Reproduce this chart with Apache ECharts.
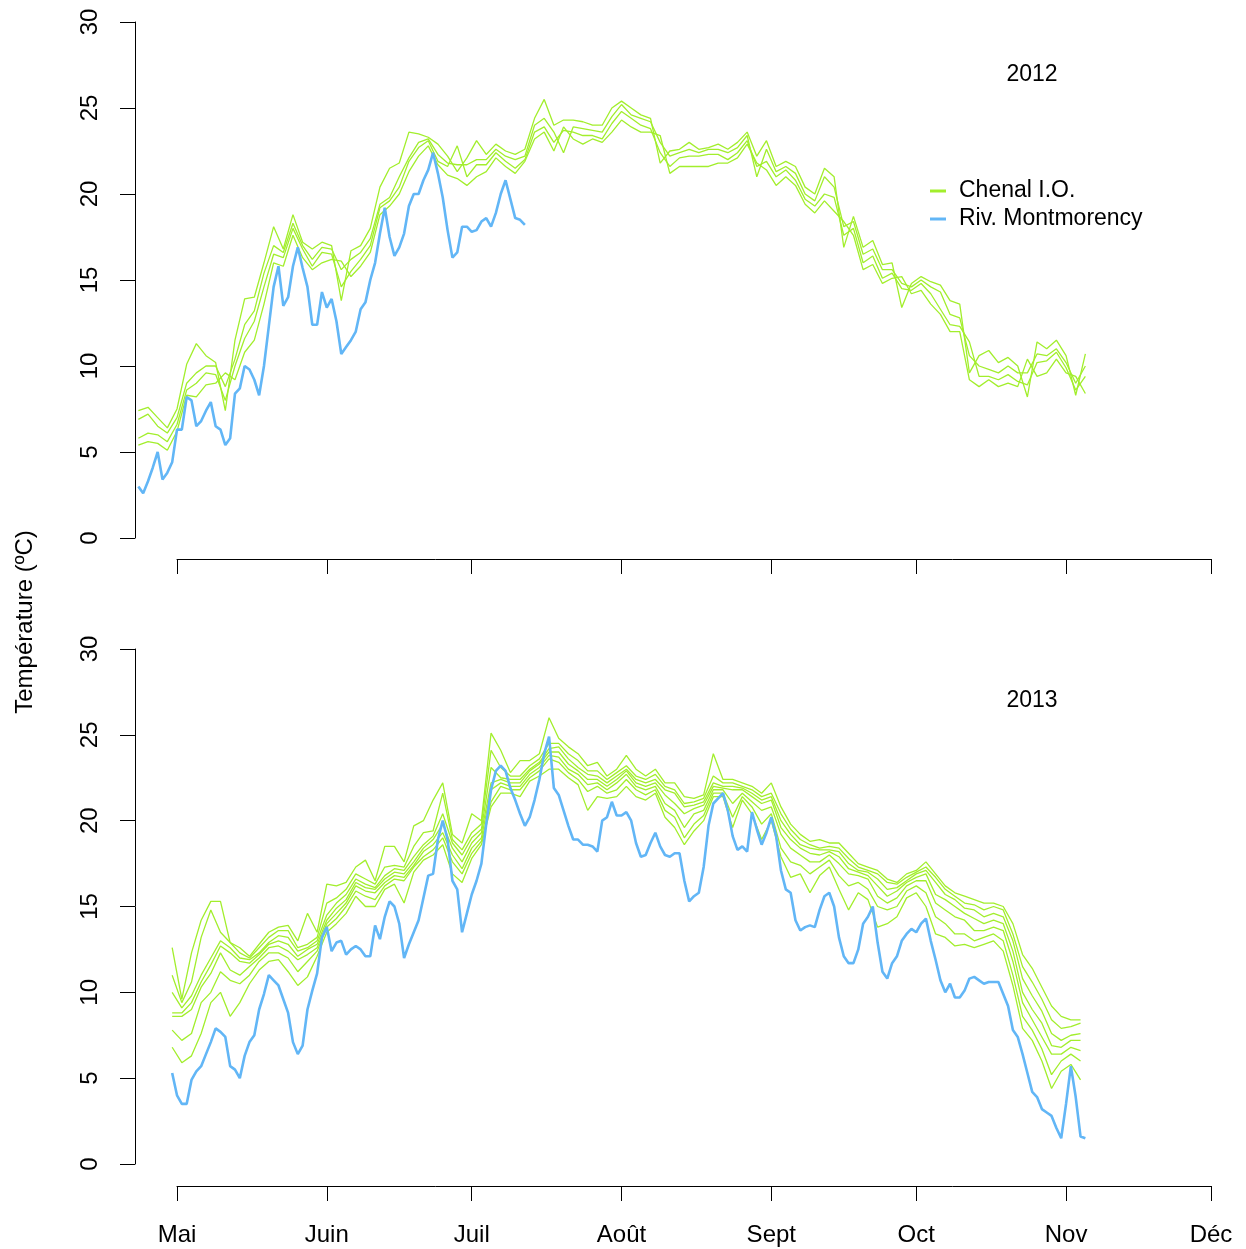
<!DOCTYPE html>
<html>
<head>
<meta charset="utf-8">
<script src="https://cdn.jsdelivr.net/npm/echarts@6/dist/echarts.min.js"></script>
<style>
  html, body { margin: 0; padding: 0; background: #fff; }
  #chart { width: 1246px; height: 1249px; }
</style>
</head>
<body>
<div id="chart"></div>
<script>
// Day offsets are counted from 1 May (day 0) of each season.
const monthStarts = [0, 31, 61, 92, 123, 153, 184, 214];
const monthNames = ['Mai', 'Juin', 'Juil', 'Août', 'Sept', 'Oct', 'Nov', 'Déc'];
const yTicks = [0, 30, 5]; // min, max, step of the temperature axis
const firstPlotDay = -8.692; // left edge of the plotting region (about 22 April)

// ---- 2012 ----
// Chenal I.O. stations: one reading every 2 days starting on day -8
const chenal2012Start = -8, chenal2012Step = 2;
const chenal2012A = [7.4,7.6,7.0,6.4,7.5,10.1,11.3,10.6,10.2,7.4,
  11.5,13.9,14.0,16.0,18.1,16.8,18.8,17.2,16.8,17.2,
  17.0,13.8,16.7,17.0,18.0,20.4,21.5,21.8,23.6,23.5,
  23.3,22.9,22.2,21.3,22.1,23.1,22.3,22.9,22.5,22.3,
  22.6,24.4,25.5,24.0,24.3,24.3,24.2,24.0,24.0,25.0,
  25.4,25.0,24.6,24.4,21.8,22.5,22.6,23.0,22.6,22.7,
  22.9,22.6,23.0,23.6,22.2,23.1,21.6,21.9,21.6,20.4,
  20.0,21.5,21.0,16.9,18.7,16.9,17.3,15.9,16.0,13.4,
  14.8,15.2,14.9,14.7,13.8,13.6,9.6,10.6,10.9,10.2,
  10.5,10.0,8.2,11.4,11.0,11.5,10.6,8.3,10.7];
const chenal2012B = [6.9,7.2,6.5,6.1,7.0,9.0,9.6,10.0,10.0,8.8,
  10.4,12.4,13.2,15.4,17.0,16.6,18.3,17.0,16.2,16.9,
  16.8,15.6,16.2,16.6,17.4,19.4,19.8,21.0,22.1,23.0,
  23.2,22.3,21.8,21.7,21.7,22.0,22.0,22.6,22.2,22.0,
  22.2,24.0,24.4,23.6,22.4,23.9,23.8,23.7,23.6,24.5,
  25.2,24.6,24.4,24.2,23.0,22.2,22.4,22.6,22.4,22.6,
  22.6,22.4,22.7,23.4,21.0,22.6,21.3,21.6,21.2,20.0,
  19.6,21.0,20.4,18.1,18.4,16.5,16.8,15.6,15.6,14.8,
  14.6,15.0,14.6,14.3,13.0,12.8,10.6,10.0,9.8,9.6,
  10.0,9.6,9.6,10.7,10.6,11.0,10.2,9.0,10.0];
const chenal2012C = [5.8,6.1,6.0,5.6,6.6,8.6,9.0,9.6,9.5,8.0,
  10.0,11.6,12.6,14.6,16.5,16.3,18.0,16.8,15.8,16.6,
  16.5,14.6,15.5,16.2,17.0,19.2,19.6,20.4,21.9,22.7,
  23.1,21.9,21.6,22.8,21.0,21.7,21.7,22.4,21.9,21.5,
  22.0,23.6,23.9,23.0,23.7,23.6,23.4,23.4,23.2,24.1,
  24.8,24.4,24.0,23.8,22.4,21.6,22.1,22.2,22.2,22.3,
  22.3,22.0,22.4,23.1,21.6,21.9,21.0,21.4,20.8,19.7,
  19.3,20.0,19.8,17.6,18.0,16.0,16.4,15.1,15.4,14.5,
  14.4,14.8,14.2,13.3,12.4,12.3,11.4,9.4,9.4,9.2,
  9.5,9.1,8.9,10.2,10.3,10.8,9.9,8.6,9.4];
const chenal2012D = [5.4,5.6,5.5,5.1,6.2,8.3,8.2,8.9,9.0,9.6,
  9.2,10.8,11.5,13.6,16.0,15.8,17.6,16.3,15.6,16.0,
  16.2,16.1,15.2,15.8,16.6,18.8,19.3,20.0,21.3,22.2,
  22.8,21.7,21.1,20.9,20.5,21.0,21.3,22.1,21.6,21.2,
  21.9,23.2,23.6,22.5,23.9,23.2,22.9,23.2,23.0,23.6,
  24.3,23.9,23.6,23.6,23.4,21.2,21.6,21.6,21.6,21.6,
  21.8,21.8,22.1,22.9,21.8,21.4,20.5,21.0,20.5,19.4,
  18.9,19.6,19.0,18.4,17.6,15.6,15.9,14.8,15.1,15.2,
  14.2,14.4,13.6,13.0,12.0,12.0,9.2,8.8,9.2,8.8,
  9.0,8.8,10.4,9.4,9.6,10.4,9.6,9.4,8.4];
// Riv. Montmorency: daily readings starting on day -8
const montmorency2012Start = -8;
const montmorency2012 = [3.0,2.6,3.3,4.1,5.0,3.4,3.8,4.4,6.3,6.3,
  8.2,8.0,6.5,6.8,7.4,7.9,6.5,6.3,5.4,5.8,
  8.4,8.7,10.0,9.8,9.2,8.3,10.0,12.3,14.6,15.8,
  13.5,14.0,15.8,16.9,15.7,14.6,12.4,12.4,14.3,13.4,
  13.9,12.6,10.7,11.1,11.5,12.0,13.3,13.7,15.0,16.0,
  17.7,19.2,17.5,16.4,16.9,17.7,19.3,20.0,20.0,20.8,
  21.4,22.4,21.2,19.8,17.9,16.3,16.6,18.1,18.1,17.8,
  17.9,18.4,18.6,18.1,18.9,20.0,20.8,19.7,18.6,18.5,
  18.2];

// ---- 2013 ----
const chenal2013Start = -1, chenal2013Step = 2;
const chenal2013A = [12.6,9.6,12.3,14.2,15.3,15.3,12.9,12.6,12.1,12.8,
  13.5,13.8,13.9,13.0,14.6,13.5,16.3,16.2,16.4,17.3,
  17.7,16.5,18.5,18.5,17.6,19.7,20.0,21.2,22.2,19.2,
  18.7,20.4,20.0,25.1,24.1,22.8,23.5,23.5,23.9,26.0,
  24.8,24.3,23.9,23.2,23.4,22.6,23.0,23.8,23.0,22.6,
  23.0,22.2,22.2,21.4,21.3,21.5,23.9,22.4,22.4,22.2,
  22.0,21.6,22.2,20.8,19.8,19.2,18.8,18.9,18.7,18.7,
  18.1,17.5,17.3,17.1,16.6,16.4,16.9,17.1,17.6,16.9,
  16.2,15.8,15.6,15.4,15.2,15.2,15.0,14.0,12.2,11.4,
  10.3,9.2,8.6,8.4,8.4];
const chenal2013B = [11.0,9.4,10.6,13.2,14.8,13.5,12.9,12.3,12.0,12.6,
  13.2,13.6,13.6,12.6,12.8,13.2,15.2,15.5,16.0,16.9,
  16.6,16.3,17.3,17.4,17.3,18.5,19.3,19.4,21.6,18.9,
  18.3,19.3,19.8,24.1,23.1,22.6,22.6,23.2,23.6,24.5,
  24.5,23.9,23.5,22.9,22.9,22.4,22.8,23.2,22.6,22.4,
  22.7,22.0,21.8,21.0,21.1,21.3,22.6,22.2,22.2,22.0,
  21.8,21.4,21.6,20.4,19.5,18.9,18.6,18.4,18.5,18.4,
  17.8,17.3,17.1,16.9,16.4,16.3,16.7,17.0,17.3,16.7,
  16.0,15.6,15.2,15.1,14.8,15.0,14.8,13.4,11.5,10.6,
  9.6,8.4,7.9,8.0,8.2];
const chenal2013C = [10.0,9.1,9.8,11.0,12.0,13.0,12.6,12.0,11.9,12.3,
  12.9,13.3,13.2,12.4,12.6,13.0,14.5,15.2,15.7,16.6,
  16.3,16.1,16.8,17.2,17.1,17.9,18.6,19.1,20.4,18.7,
  18.0,19.0,19.5,23.1,22.5,22.4,22.4,23.0,23.4,24.2,
  24.3,23.6,23.1,22.7,22.6,22.2,22.6,23.0,22.4,22.2,
  22.4,21.8,21.6,20.8,20.9,21.1,22.2,22.0,22.0,21.9,
  21.6,21.2,21.4,20.0,19.2,18.6,18.4,18.3,18.3,18.2,
  17.5,17.1,17.0,16.6,16.0,16.1,16.5,16.9,17.1,16.4,
  15.7,15.4,14.9,14.8,14.4,14.6,14.4,13.0,10.8,9.8,
  8.9,7.6,7.2,7.5,7.6];
const chenal2013D = [8.8,8.8,9.4,10.6,11.6,12.7,12.3,11.8,11.7,12.2,
  12.8,13.0,12.8,12.1,12.5,12.8,14.2,14.9,15.4,16.4,
  16.1,16.0,16.6,17.0,16.9,17.6,18.4,18.9,19.8,18.4,
  17.6,18.7,19.3,22.2,22.4,22.2,22.2,22.9,23.3,24.0,
  24.0,23.3,22.9,22.4,22.4,22.0,22.4,22.9,22.2,22.0,
  22.2,21.5,21.0,20.4,20.7,20.9,22.0,21.9,21.8,21.8,
  21.4,21.0,21.2,19.6,18.9,18.4,18.1,18.0,18.2,17.9,
  17.2,17.0,16.8,16.2,15.6,15.9,16.4,16.7,16.9,15.7,
  15.4,15.0,14.6,14.3,14.0,14.2,14.0,12.4,10.0,9.0,
  8.2,6.9,6.8,7.2,7.2];
const chenal2013E = [8.6,8.6,9.0,10.3,11.1,12.3,11.3,11.0,11.5,12.0,
  12.6,12.7,12.4,11.9,12.2,12.6,14.0,14.6,15.2,16.2,
  15.9,15.8,16.4,16.8,16.7,17.4,18.2,18.6,19.3,18.0,
  17.2,18.4,19.0,21.8,22.2,22.0,22.0,22.7,23.1,23.8,
  23.7,23.0,22.7,22.1,22.2,21.8,22.2,22.7,22.0,21.8,
  22.0,21.0,20.6,19.6,20.4,20.6,21.8,21.8,21.0,21.6,
  21.1,20.6,20.8,19.2,18.4,18.0,17.6,17.6,18.0,17.5,
  16.9,16.8,16.6,15.6,15.2,15.5,16.2,16.5,16.5,15.2,
  14.8,14.4,14.2,13.6,13.6,13.8,13.6,11.8,9.4,8.4,
  7.4,6.4,6.4,6.8,6.6];
const chenal2013F = [7.8,7.2,7.6,9.4,10.0,11.2,10.7,10.5,11.0,11.8,
  12.3,12.3,12.0,11.2,11.8,12.4,13.8,14.3,15.0,15.9,
  15.6,15.4,16.2,16.6,16.5,17.3,17.9,18.3,19.0,17.6,
  16.9,18.1,18.8,21.1,22.0,21.8,21.8,22.5,22.9,23.6,
  23.4,22.8,22.4,21.7,22.0,21.6,21.8,22.4,21.8,21.5,
  21.8,20.6,20.2,19.0,19.8,20.3,21.6,21.6,20.2,21.4,
  20.8,19.8,20.4,18.4,17.6,17.4,16.9,17.3,17.7,16.8,
  16.2,16.4,16.0,15.0,14.8,15.0,15.9,16.2,15.8,14.4,
  14.0,13.4,13.4,13.0,13.2,13.4,13.0,11.0,8.6,7.8,
  6.7,5.2,6.0,6.4,6.0];
const chenal2013G = [6.8,5.9,6.3,7.6,9.4,10.0,8.6,9.4,10.5,11.3,
  11.8,11.9,11.2,10.4,10.9,12.1,13.5,14.0,14.6,15.6,
  15.0,15.0,16.0,16.3,15.2,17.0,17.7,18.0,18.6,16.9,
  16.4,17.8,18.6,20.8,21.6,21.6,21.4,22.3,22.6,23.0,
  23.0,22.5,22.1,20.6,21.4,21.3,21.4,22.0,21.4,21.2,
  21.6,20.2,19.6,18.6,19.4,20.0,21.4,21.4,19.6,21.2,
  20.4,18.9,20.0,17.9,16.7,16.9,15.8,16.8,17.3,16.0,
  14.8,15.8,15.4,13.8,14.0,14.4,15.5,15.8,15.0,13.4,
  13.2,12.7,12.8,12.6,12.8,13.0,12.4,10.4,7.9,7.2,
  6.0,4.4,5.4,5.8,4.9];
const montmorency2013Start = -1;
const montmorency2013 = [5.3,4.0,3.5,3.5,4.9,5.4,5.7,6.4,7.1,7.9,
  7.7,7.4,5.7,5.5,5.0,6.3,7.1,7.5,9.0,9.9,
  11.0,10.7,10.4,9.6,8.8,7.1,6.4,6.9,9.0,10.1,
  11.1,13.2,13.8,12.4,12.9,13.0,12.2,12.5,12.7,12.5,
  12.1,12.1,13.9,13.1,14.4,15.3,15.0,14.0,12.0,12.8,
  13.5,14.2,15.5,16.8,16.9,18.9,20.0,18.9,16.5,16.0,
  13.5,14.6,15.7,16.5,17.5,19.8,21.8,22.9,23.2,22.9,
  21.9,21.2,20.4,19.7,20.2,21.2,22.4,23.9,24.9,21.9,
  21.5,20.6,19.7,18.9,18.9,18.6,18.6,18.5,18.2,20.0,
  20.2,21.1,20.3,20.3,20.5,20.0,18.7,17.9,18.0,18.7,
  19.3,18.5,18.0,17.9,18.1,18.1,16.5,15.3,15.6,15.8,
  17.3,19.7,21.0,21.3,21.6,20.6,19.1,18.3,18.5,18.2,
  20.5,19.5,18.6,19.3,20.2,19.1,17.1,16.0,15.8,14.2,
  13.6,13.8,13.9,13.8,14.8,15.6,15.8,15.0,13.2,12.1,
  11.7,11.7,12.5,14.0,14.4,15.0,12.9,11.2,10.8,11.7,
  12.1,13.0,13.4,13.7,13.5,14.0,14.3,13.0,11.9,10.7,
  10.0,10.5,9.7,9.7,10.1,10.8,10.9,10.7,10.5,10.6,
  10.6,10.6,9.9,9.2,7.8,7.4,6.4,5.3,4.2,3.9,
  3.2,3.0,2.8,2.1,1.5,3.5,5.7,3.9,1.6,1.5];

const yearLabels = ['2012', '2013'];
const seriesNames = ['Chenal I.O.', 'Riv. Montmorency'];

const GREEN = '#A2EE2C';
const BLUE = '#62B6F6';
const FONT = '"Liberation Sans", Arial, sans-serif';

// pair each reading with its day offset
function toPoints(start, step, values) {
  return values.map((v, i) => [start + i * step, v]);
}

function lineSeries(name, panel, start, step, values, color, width, z) {
  return {
    name: name,
    type: 'line',
    xAxisIndex: panel,
    yAxisIndex: panel,
    data: toPoints(start, step, values),
    showSymbol: false,
    symbol: 'none',
    silent: true,
    z: z,
    lineStyle: { color: color, width: width },
    itemStyle: { color: color },
    emphasis: { disabled: true }
  };
}

const series = [];
[chenal2012A, chenal2012B, chenal2012C, chenal2012D].forEach(v =>
  series.push(lineSeries(seriesNames[0], 0, chenal2012Start, chenal2012Step, v, GREEN, 1.3, 2)));
[chenal2013A, chenal2013B, chenal2013C, chenal2013D, chenal2013E, chenal2013F, chenal2013G].forEach(v =>
  series.push(lineSeries(seriesNames[0], 1, chenal2013Start, chenal2013Step, v, GREEN, 1.3, 2)));
series.push(lineSeries(seriesNames[1], 0, montmorency2012Start, 1, montmorency2012, BLUE, 2.6, 3));
series.push(lineSeries(seriesNames[1], 1, montmorency2013Start, 1, montmorency2013, BLUE, 2.6, 3));

// grids 0/1: plotting regions; grids 2/3: month axes spanning 1 May – 1 Dec
const panels = [
  { top: 22, height: 516, axisOffset: 21, labels: false },
  { top: 649, height: 515, axisOffset: 22, labels: true }
];
const grids = [];
panels.forEach(p => grids.push({ left: 135, right: 35, top: p.top, height: p.height }));
panels.forEach(p => grids.push({ left: 177, right: 35, top: p.top, height: p.height }));

const xAxes = [];
const yAxes = [];
panels.forEach((p, i) => {
  xAxes.push({
    gridIndex: i, type: 'value', show: false,
    min: firstPlotDay, max: monthStarts[monthStarts.length - 1]
  });
  yAxes.push({
    gridIndex: i, type: 'value',
    min: yTicks[0], max: yTicks[1], interval: yTicks[2],
    position: 'left',
    axisLine: { show: true, onZero: false, lineStyle: { color: '#000', width: 1 } },
    axisTick: { show: true, length: 15, lineStyle: { color: '#000', width: 1 } },
    axisLabel: { rotate: 90, color: '#000', fontSize: 24, fontFamily: FONT, margin: 33 },
    splitLine: { show: false }
  });
});
panels.forEach((p, i) => {
  xAxes.push({
    gridIndex: 2 + i, type: 'value',
    min: monthStarts[0], max: monthStarts[monthStarts.length - 1],
    position: 'bottom', offset: p.axisOffset,
    axisLine: { show: true, onZero: false, lineStyle: { color: '#000', width: 1 } },
    axisTick: { show: true, length: 15, customValues: monthStarts, lineStyle: { color: '#000', width: 1 } },
    axisLabel: {
      show: p.labels,
      customValues: monthStarts,
      formatter: v => monthNames[monthStarts.indexOf(v)],
      color: '#000', fontSize: 24, fontFamily: FONT, margin: 37
    },
    splitLine: { show: false }
  });
  yAxes.push({ gridIndex: 2 + i, type: 'value', min: yTicks[0], max: yTicks[1], show: false });
});

const chart = echarts.init(document.getElementById('chart'), null, { renderer: 'canvas' });
chart.setOption({
  backgroundColor: '#fff',
  animation: false,
  grid: grids,
  xAxis: xAxes,
  yAxis: yAxes,
  legend: {
    data: seriesNames,
    orient: 'vertical',
    left: 930,
    top: 177,
    padding: 0,
    icon: 'rect',
    itemWidth: 16,
    itemHeight: 3,
    itemGap: 0,
    selectedMode: false,
    textStyle: { fontSize: 23, fontFamily: FONT, color: '#000', lineHeight: 28, padding: [0, 0, 0, 8] }
  },
  graphic: [
    {
      type: 'text', x: 25, y: 622, rotation: Math.PI / 2,
      style: { text: 'Température (ºC)', fontSize: 24, fontFamily: FONT, fill: '#000', align: 'center', verticalAlign: 'middle' }
    },
    {
      type: 'text', x: 1032, y: 75,
      style: { text: yearLabels[0], fontSize: 23, fontFamily: FONT, fill: '#000', align: 'center', verticalAlign: 'middle' }
    },
    {
      type: 'text', x: 1032, y: 701,
      style: { text: yearLabels[1], fontSize: 23, fontFamily: FONT, fill: '#000', align: 'center', verticalAlign: 'middle' }
    }
  ],
  series: series
});
</script>
</body>
</html>
